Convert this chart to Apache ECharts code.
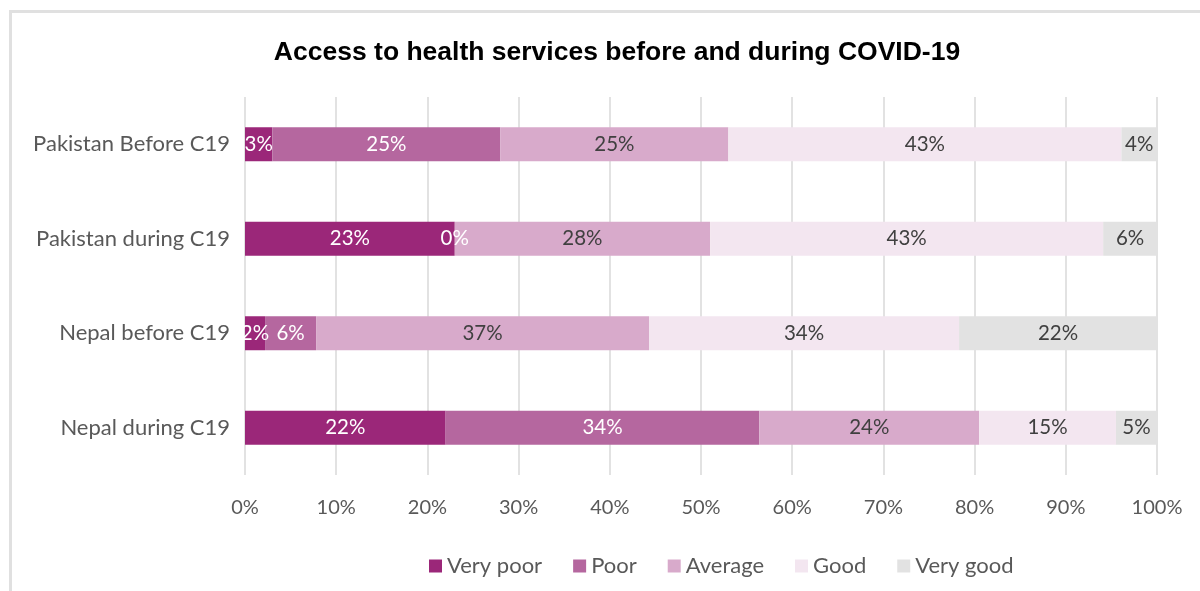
<!DOCTYPE html>
<html>
<head>
<meta charset="utf-8">
<script src="https://cdn.jsdelivr.net/npm/echarts@6/dist/echarts.min.js"></script>
<style>
  html, body { margin: 0; padding: 0; background: #fff; }
  #chart { width: 1200px; height: 591px; }
</style>
</head>
<body>
<div id="chart"></div>
<script>
// categories, top to bottom
var categories = ['Pakistan Before C19', 'Pakistan during C19', 'Nepal before C19', 'Nepal during C19'];
var seriesNames = ['Very poor', 'Poor', 'Average', 'Good', 'Very good'];

// percent values per category (same order as categories)
var veryPoor = [3.0, 23.0, 2.2, 22.0];
var poor     = [25.0, 0.0, 5.6, 34.4];
var average  = [25.0, 28.0, 36.5, 24.1];
var good     = [43.1, 43.1, 34.0, 15.0];
var veryGood = [3.9, 5.9, 21.7, 4.5];

var xTicks = [0, 10, 20, 30, 40, 50, 60, 70, 80, 90, 100];

var colors = ['#9b2779', '#b5679f', '#d8aacb', '#f3e6f0', '#e2e2e2'];
var labelColors = ['#ffffff', '#ffffff', '#404040', '#404040', '#404040'];
var font = 'Lato, "Open Sans", sans-serif';

var chart = echarts.init(document.getElementById('chart'));
var values = [veryPoor, poor, average, good, veryGood];

var series = seriesNames.map(function (name, i) {
  return {
    name: name,
    type: 'bar',
    stack: 'total',
    barWidth: 34,
    itemStyle: { color: colors[i] },
    label: {
      show: true,
      position: 'inside',
      color: labelColors[i],
      fontFamily: font,
      fontSize: 20.5,
      formatter: function (p) { return Math.round(p.value) + '%'; }
    },
    emphasis: { disabled: true },
    data: values[i]
  };
});

chart.setOption({
  animation: false,
  color: colors,
  title: {
    text: 'Access to health services before and during COVID-19',
    left: 612,
    textAlign: 'center',
    top: 34,
    textStyle: { fontFamily: '"Liberation Sans", Arial, sans-serif', fontWeight: 'bold', fontSize: 26.5, color: '#000' }
  },
  legend: {
    data: seriesNames,
    left: 424,
    top: 550,
    icon: 'rect',
    itemWidth: 13,
    itemHeight: 13,
    itemGap: 31,
    textStyle: { fontFamily: font, fontSize: 22, color: '#595959' }
  },
  grid: { left: 245, right: 43, top: 97, bottom: 116 },
  xAxis: {
    type: 'value',
    min: xTicks[0],
    max: xTicks[xTicks.length - 1],
    interval: 10,
    axisLine: { show: false },
    axisTick: { show: false },
    axisLabel: { margin: 23, fontFamily: font, fontSize: 20, color: '#595959', formatter: '{value}%' },
    splitLine: { lineStyle: { color: '#d9d9d9', width: 1.5 } }
  },
  yAxis: {
    type: 'category',
    data: categories,
    inverse: true,
    axisLine: { show: false },
    axisTick: { show: false },
    axisLabel: { margin: 15, fontFamily: font, fontSize: 22, color: '#595959' }
  },
  graphic: [
    { type: 'rect', shape: { x: 9, y: 10, width: 1191, height: 3 }, style: { fill: '#e0e0e0' }, silent: true },
    { type: 'rect', shape: { x: 9, y: 10, width: 3, height: 581 }, style: { fill: '#e0e0e0' }, silent: true }
  ],
  series: series
});
</script>
</body>
</html>
